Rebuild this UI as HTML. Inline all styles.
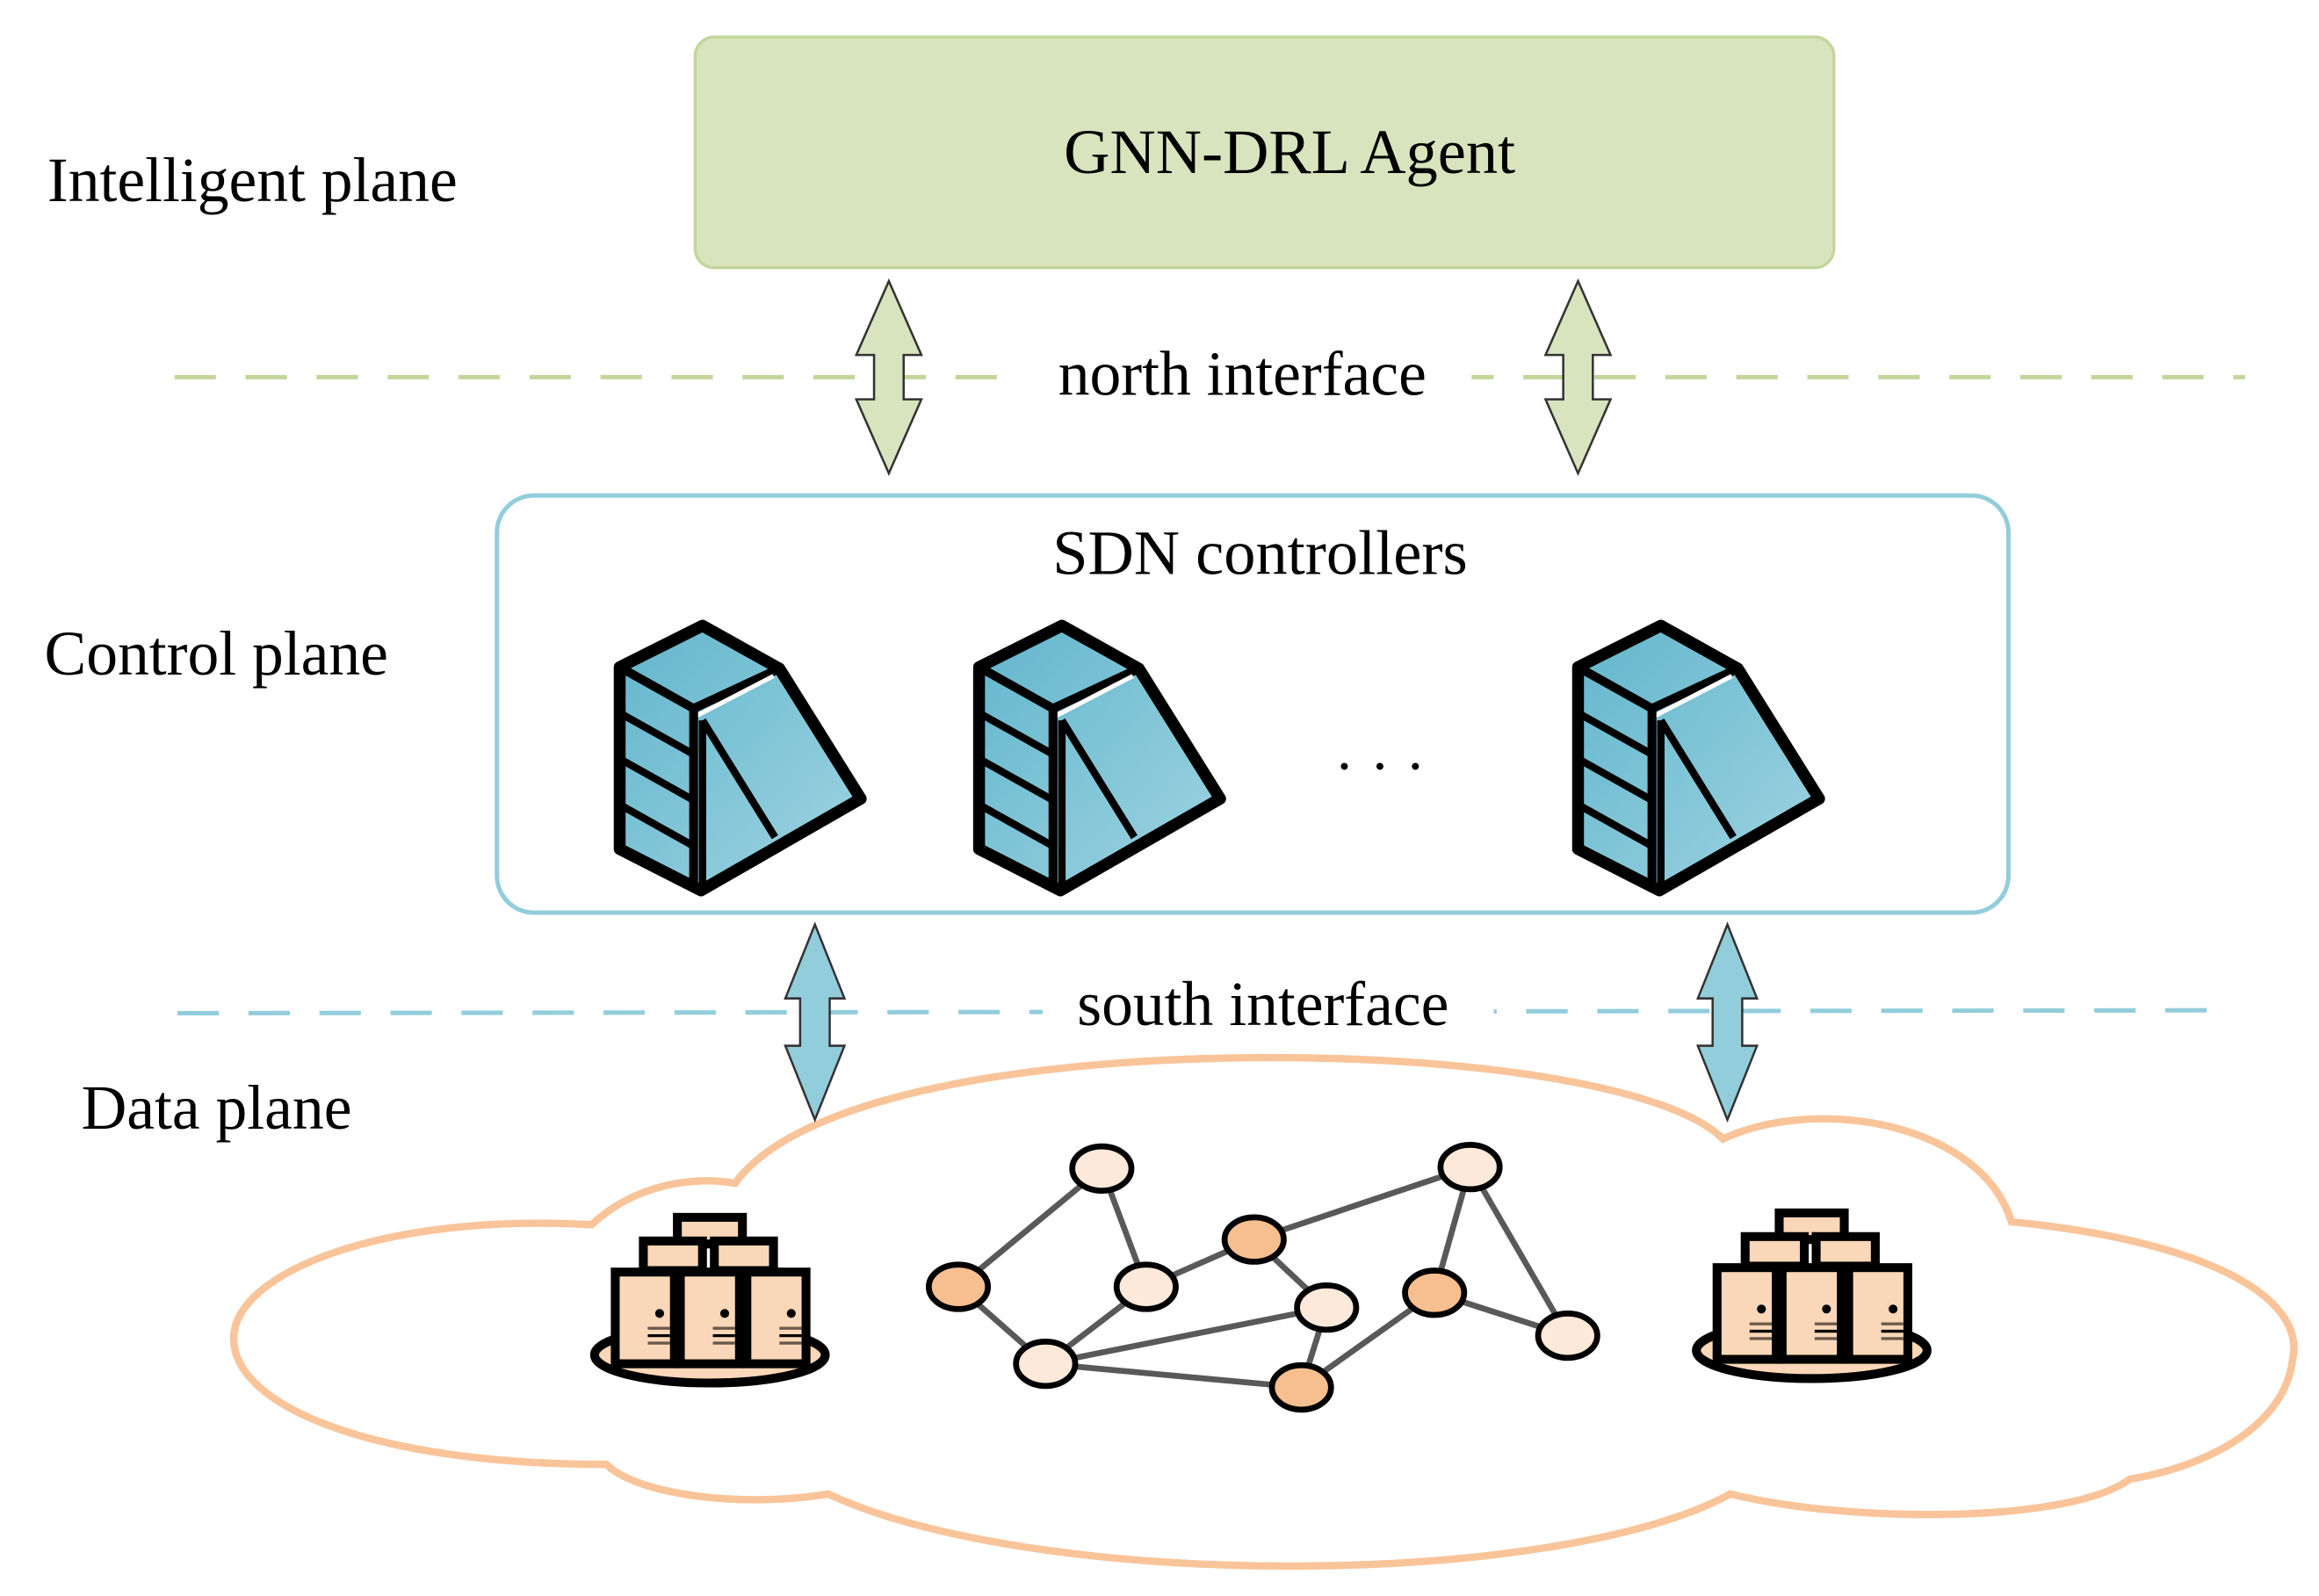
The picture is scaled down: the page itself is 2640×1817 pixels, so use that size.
<!DOCTYPE html>
<html><head><meta charset="utf-8"><style>html,body{margin:0;padding:0;background:#fff}svg{display:block}</style></head>
<body>
<svg width="2640" height="1817" viewBox="0 0 1568 1079" preserveAspectRatio="none" xmlns="http://www.w3.org/2000/svg" font-family="'Liberation Serif', serif">
<defs>
<linearGradient id="bl" x1="0" y1="0" x2="1" y2="1"><stop offset="0" stop-color="#62b6cc"/><stop offset="1" stop-color="#9fd4e2"/></linearGradient>
<g id="srv">
<path d="M56 0 L108 29 L163 117 L55 179 L0 151 L0 28 Z" fill="url(#bl)" stroke="#000" stroke-width="8" stroke-linejoin="round"/>
<path d="M0 28 L50 56 L108 29" fill="none" stroke="#000" stroke-width="6" stroke-linejoin="round"/>
<path d="M50 62 L104 34" stroke="#fff" stroke-width="3"/>
<line x1="50" y1="56" x2="50" y2="179" stroke="#000" stroke-width="6"/>
<line x1="56" y1="64" x2="56" y2="179" stroke="#000" stroke-width="5"/>
<line x1="56" y1="64" x2="105" y2="143" stroke="#000" stroke-width="5"/>
<line x1="0" y1="59" x2="50" y2="87" stroke="#000" stroke-width="5"/>
<line x1="0" y1="90" x2="50" y2="118" stroke="#000" stroke-width="5"/>
<line x1="0" y1="121" x2="50" y2="149" stroke="#000" stroke-width="5"/>
</g>
<g id="rack">
<rect x="0" y="0" width="40" height="62" fill="#fad7b8" stroke="#000" stroke-width="6"/>
<circle cx="30" cy="28" r="3" fill="#000"/>
<line x1="22" y1="38" x2="37" y2="38" stroke="#6b5a4a" stroke-width="2"/>
<line x1="22" y1="43" x2="37" y2="43" stroke="#000" stroke-width="2"/>
<line x1="22" y1="48" x2="37" y2="48" stroke="#6b5a4a" stroke-width="2"/>
</g>
<g id="clu">
<ellipse cx="80" cy="96" rx="78" ry="19" fill="#fad7b8" stroke="#000" stroke-width="6"/>
<rect x="58" y="3" width="44" height="18" fill="#fad7b8" stroke="#000" stroke-width="6"/>
<rect x="35" y="19" width="40" height="20" fill="#fad7b8" stroke="#000" stroke-width="6"/>
<rect x="83" y="19" width="40" height="20" fill="#fad7b8" stroke="#000" stroke-width="6"/>
<use href="#rack" x="16" y="40"/><use href="#rack" x="60" y="40"/><use href="#rack" x="105" y="40"/>
</g>
</defs>
<rect x="470" y="25" width="770" height="156" rx="13" fill="#d7e4bd" stroke="#c3d69b" stroke-width="2"/>
<text x="872" y="117" font-size="43" text-anchor="middle">GNN-DRL Agent</text>
<text x="32" y="136" font-size="42.5">Intelligent plane</text>
<line x1="118" y1="255" x2="1518" y2="255" stroke="#c3d69b" stroke-width="3" stroke-dasharray="28,20"/>
<rect x="690" y="228" width="305" height="52" fill="#fff"/>
<text x="840" y="267" font-size="42.5" text-anchor="middle">north interface</text>
<path d="M601 190 L623 240 L611 240 L611 270 L623 270 L601 320 L579 270 L591 270 L591 240 L579 240 Z" fill="#d7e4bd" stroke="#333" stroke-width="1.5"/>
<path d="M1067 190 L1089 240 L1077 240 L1077 270 L1089 270 L1067 320 L1045 270 L1057 270 L1057 240 L1045 240 Z" fill="#d7e4bd" stroke="#333" stroke-width="1.5"/>
<rect x="336" y="335" width="1022" height="282" rx="25" fill="#fff" stroke="#92cddc" stroke-width="3"/>
<text x="852" y="388" font-size="43" text-anchor="middle">SDN controllers</text>
<text x="30" y="456" font-size="42.5">Control plane</text>
<use href="#srv" x="419" y="423"/><use href="#srv" x="662" y="423"/><use href="#srv" x="1067" y="423"/>
<text x="940" y="520" font-size="40" text-anchor="middle" letter-spacing="14">...</text>
<line x1="120" y1="685" x2="1505" y2="683" stroke="#92cddc" stroke-width="3" stroke-dasharray="28,20"/>
<rect x="705" y="656" width="305" height="54" fill="#fff"/>
<text x="854" y="693" font-size="42.5" text-anchor="middle">south interface</text>
<text x="55" y="763" font-size="42.5">Data plane</text>
<path d="M400 828 C430 800,470 795,497 800 C540 740,700 715,860 715 C1000 715,1130 735,1165 770 C1230 740,1340 760,1360 826 C1500 840,1560 880,1550 920 C1545 960,1500 990,1440 1000 C1400 1030,1250 1030,1170 1010 C1050 1075,700 1075,560 1010 C500 1020,430 1010,410 990 C250 990,158 950,158 905 C158 860,260 820,400 828 Z" fill="#fff" stroke="#f9c499" stroke-width="5"/>
<path d="M551 625 L571 675 L561 675 L561 707 L571 707 L551 757 L531 707 L541 707 L541 675 L531 675 Z" fill="#92cddc" stroke="#333" stroke-width="1.5"/>
<path d="M1168 625 L1188 675 L1178 675 L1178 707 L1188 707 L1168 757 L1148 707 L1158 707 L1158 675 L1148 675 Z" fill="#92cddc" stroke="#333" stroke-width="1.5"/>
<g stroke="#595959" stroke-width="4">
<line x1="745" y1="790" x2="648" y2="870"/><line x1="745" y1="790" x2="775" y2="870"/>
<line x1="648" y1="870" x2="707" y2="922"/><line x1="775" y1="870" x2="707" y2="922"/>
<line x1="775" y1="870" x2="848" y2="838"/><line x1="848" y1="838" x2="897" y2="884"/>
<line x1="848" y1="838" x2="994" y2="789"/><line x1="707" y1="922" x2="897" y2="884"/>
<line x1="707" y1="922" x2="880" y2="938"/><line x1="880" y1="938" x2="897" y2="884"/>
<line x1="880" y1="938" x2="970" y2="874"/>
<line x1="970" y1="874" x2="994" y2="789"/><line x1="994" y1="789" x2="1060" y2="903"/><line x1="970" y1="874" x2="1060" y2="903"/>
</g>
<g stroke="#000" stroke-width="4">
<ellipse cx="745" cy="790" rx="20" ry="15" fill="#fde9d9"/>
<ellipse cx="648" cy="870" rx="20" ry="15" fill="#f7bf8f"/>
<ellipse cx="775" cy="870" rx="20" ry="15" fill="#fde9d9"/>
<ellipse cx="848" cy="838" rx="20" ry="15" fill="#f7bf8f"/>
<ellipse cx="897" cy="884" rx="20" ry="15" fill="#fde9d9"/>
<ellipse cx="707" cy="922" rx="20" ry="15" fill="#fde9d9"/>
<ellipse cx="880" cy="938" rx="20" ry="15" fill="#f7bf8f"/>
<ellipse cx="994" cy="789" rx="20" ry="15" fill="#fde9d9"/>
<ellipse cx="970" cy="874" rx="20" ry="15" fill="#f7bf8f"/>
<ellipse cx="1060" cy="903" rx="20" ry="15" fill="#fde9d9"/>
</g>
<use href="#clu" x="400" y="820"/>
<use href="#clu" x="1145" y="817"/>
</svg>
</body></html>
